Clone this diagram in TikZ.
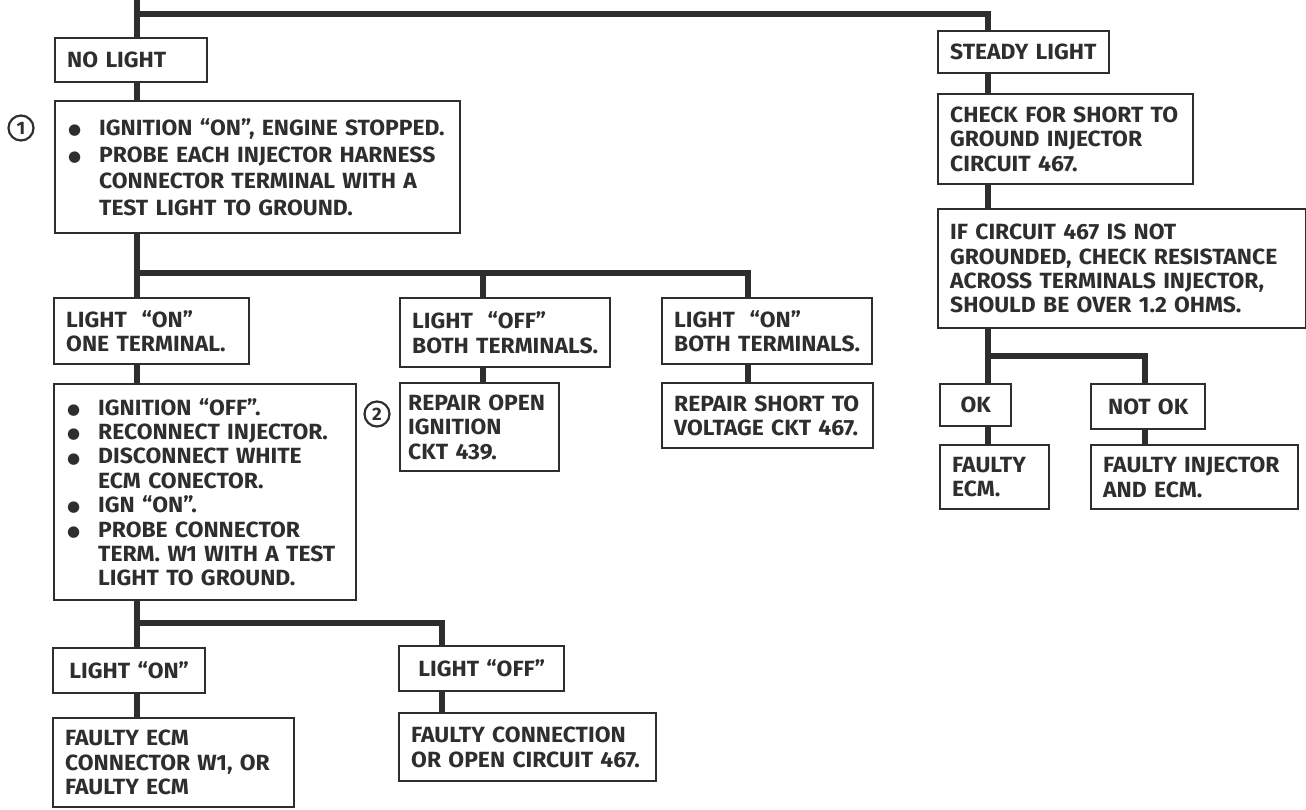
\documentclass[tikz,border=0pt]{standalone}
\usepackage{fontspec}
\setmainfont{Fira Sans}[FakeStretch=1.04]
\newfontfamily\dotfont{DejaVu Sans}
\usepackage{tikz}
\definecolor{ink}{HTML}{2E2E2E}
\newcommand{\bul}{\makebox[16pt][l]{\hspace{0.5pt}\raisebox{0.4pt}{\dotfont\fontsize{7.5}{7.5}\selectfont ●}}}
\newcommand{\ind}{\hspace*{16pt}}
\hyphenpenalty=10000

\begin{document}
\begin{tikzpicture}[x=0.5pt,y=-0.5pt,
    box/.style={draw=ink, text=ink, line width=1.2pt, anchor=north west, align=left,
                inner xsep=6pt, inner ysep=0pt, font=\fontsize{11}{12.2}\selectfont\bfseries},
    cbox/.style={box, align=center},
    num/.style={draw=ink, text=ink, circle, line width=1.1pt, minimum size=12.5pt, inner sep=0pt,
                font=\fontsize{9}{9}\selectfont\bfseries},
    link/.style={draw=ink, line width=3pt}]
  \useasboundingbox (0,0) rectangle (1306,809);

  % left branch
  \node[box, text width=64pt, minimum height=22pt] (nolight) at (54,37) {NO LIGHT};
  \node[box, text width=190.5pt, minimum height=66pt, font=\fontsize{11}{13.3}\selectfont\bfseries] (probe) at (54,100)
    {\bul IGNITION “ON”, ENGINE STOPPED.\\
     \bul PROBE EACH INJECTOR HARNESS\\
     \ind CONNECTOR TERMINAL WITH A\\
     \ind TEST LIGHT TO GROUND.};
  \node[num] (n1) at (21,128) {1};

  \node[box, text width=85.5pt, minimum height=33pt] (oneterm) at (53,297) {LIGHT \ “ON”\\ONE TERMINAL.};
  \node[box, text width=93pt, minimum height=34.5pt] (offboth) at (399,297) {LIGHT \ “OFF”\\BOTH TERMINALS.};
  \node[box, text width=93pt, minimum height=33pt] (onboth) at (661,297) {LIGHT \ “ON”\\BOTH TERMINALS.};

  \node[box, text width=139pt, minimum height=108pt] (reconnect) at (53,383)
    {\bul IGNITION “OFF”.\\
     \bul RECONNECT INJECTOR.\\
     \bul DISCONNECT WHITE\\
     \ind ECM CONECTOR.\\
     \bul IGN “ON”.\\
     \bul PROBE CONNECTOR\\
     \ind TERM. W1 WITH A TEST\\
     \ind LIGHT TO GROUND.};
  \node[num] (n2) at (377,414) {2};
  \node[box, inner xsep=4pt, text width=71.5pt, minimum height=44pt] (repairopen) at (399,382) {REPAIR OPEN\\IGNITION\\CKT 439.};
  \node[box, text width=93.5pt, minimum height=32.5pt] (repairshort) at (661,382) {REPAIR SHORT TO\\VOLTAGE CKT 467.};

  \node[cbox, text width=64pt, minimum height=22.5pt] (lighton) at (52,647) {LIGHT “ON”};
  \node[cbox, text width=70.5pt, minimum height=22.5pt] (lightoff) at (398,645) {LIGHT “OFF”};
  \node[box, text width=108.5pt, minimum height=44.5pt] (faultyw1) at (52,717) {FAULTY ECM\\CONNECTOR W1, OR\\FAULTY ECM};
  \node[box, text width=116.5pt, minimum height=34pt] (faultyconn) at (398,712) {FAULTY CONNECTION\\OR OPEN CIRCUIT 467.};

  % right branch
  \node[box, text width=73.5pt, minimum height=21pt] (steady) at (937,30) {STEADY LIGHT};
  \node[box, text width=115.5pt, minimum height=45pt] (checkshort) at (937,93) {CHECK FOR SHORT TO\\GROUND INJECTOR\\CIRCUIT 467.};
  \node[box, text width=172pt, minimum height=59.5pt] (ifckt) at (937,208)
    {IF CIRCUIT 467 IS NOT\\GROUNDED, CHECK RESISTANCE\\ACROSS TERMINALS INJECTOR,\\SHOULD BE OVER 1.2 OHMS.};
  \node[cbox, text width=23.5pt, minimum height=21pt] (ok) at (939,383) {OK};
  \node[cbox, text width=45pt, minimum height=22.5pt] (notok) at (1090,383) {NOT OK};
  \node[box, text width=42.5pt, minimum height=32pt] (faultyecm) at (939,444) {FAULTY\\ECM.};
  \node[box, text width=91.5pt, minimum height=32pt] (faultyinj) at (1090,444) {FAULTY INJECTOR\\AND ECM.};

  % tie points of the heavy lines
  \coordinate (top) at (137,0);
  \coordinate (rtop) at (988,14);
  \coordinate (b1) at (137,273);
  \coordinate (c2) at (483,273);
  \coordinate (c3) at (748,273);
  \coordinate (b2) at (137,623);
  \coordinate (c4) at (442,623);
  \coordinate (b3) at (988,356);
  \coordinate (c5) at (1145,356);

  \draw[link] (top) -- (nolight.north -| top);
  \draw[link] (top |- rtop) -- (rtop) -- (steady.north -| rtop);
  \draw[link] (nolight.south -| top) -- (probe.north -| top);
  \draw[link] (probe.south -| top) -- (oneterm.north -| top);
  \draw[link] (b1) -- (c3) -- (onboth.north -| c3);
  \draw[link] (c2) -- (offboth.north -| c2);
  \draw[link] (offboth.south -| c2) -- (repairopen.north -| c2);
  \draw[link] (onboth.south -| c3) -- (repairshort.north -| c3);
  \draw[link] (oneterm.south -| top) -- (reconnect.north -| top);
  \draw[link] (reconnect.south -| top) -- (lighton.north -| top);
  \draw[link] (b2) -- (c4) -- (lightoff.north -| c4);
  \draw[link] (lighton.south -| top) -- (faultyw1.north -| top);
  \draw[link] (lightoff.south -| c4) -- (faultyconn.north -| c4);

  \draw[link] (steady.south -| rtop) -- (checkshort.north -| rtop);
  \draw[link] (checkshort.south -| rtop) -- (ifckt.north -| rtop);
  \draw[link] (ifckt.south -| rtop) -- (ok.north -| rtop);
  \draw[link] (b3) -- (c5) -- (notok.north -| c5);
  \draw[link] (ok.south -| rtop) -- (faultyecm.north -| rtop);
  \draw[link] (notok.south -| c5) -- (faultyinj.north -| c5);
\end{tikzpicture}
\end{document}
